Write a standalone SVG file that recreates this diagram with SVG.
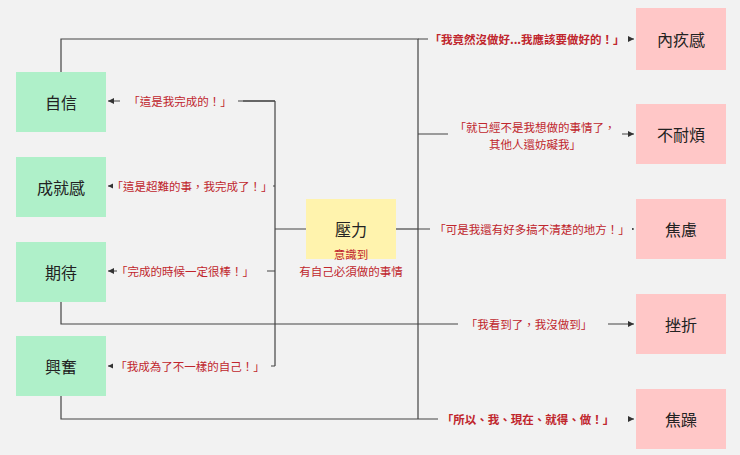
<svg xmlns="http://www.w3.org/2000/svg" width="740" height="455" viewBox="0 0 740 455">
<defs>
<marker id="a" markerWidth="6" markerHeight="6" refX="5" refY="3" orient="auto"><path d="M0,0.5 L5,3 L0,5.5 Z" fill="#333"/></marker>
<style>
.g{fill:#aff0c9}.p{fill:#ffc7c7}.y{fill:#fff3ad}
.n{font-family:"Noto Sans CJK TC","Noto Sans CJK SC",sans-serif;font-size:16px;fill:#222;text-anchor:middle;dominant-baseline:central}
.l{font-family:"Noto Sans CJK TC","Noto Sans CJK SC",sans-serif;font-size:11.5px;fill:#c0262d;text-anchor:middle;dominant-baseline:central}
.b{font-weight:bold}
.c{fill:none;stroke:#444;stroke-width:1.2}
.c2{fill:none;stroke:#444;stroke-width:1.2;marker-end:url(#a)}
</style>
</defs>
<rect width="740" height="455" fill="#f2f2f2"/>
<g id="connectors">
<path class="c" d="M61,72 V39 H418 V419"/>
<path class="c" d="M306,229 H275 M275,101 V366"/>
<path class="c" d="M396,229 H418"/>
<path class="c" d="M61,302 V324 H418"/>
<path class="c" d="M61,396 V419 H418"/>
<path class="c2" d="M243,101 H275 M243,101 H108"/>
<path class="c2" d="M275,186 H108"/>
<path class="c2" d="M275,271 H108"/>
<path class="c2" d="M275,366 H108"/>
<path class="c" d="M243,101 H275"/>
<path class="c2" d="M418,39 H634"/>
<path class="c2" d="M418,134 H634"/>
<path class="c2" d="M418,229 H634"/>
<path class="c2" d="M418,324 H634"/>
<path class="c2" d="M418,419 H634"/>
</g>
<g id="labels">
<rect x="120" y="92" width="118" height="18" fill="#f2f2f2"/><text class="l" x="180" y="101">「這是我完成的！」</text>
<rect x="113" y="177" width="160" height="18" fill="#f2f2f2"/><text class="l" x="192" y="186">「這是超難的事，我完成了！」</text>
<rect x="117" y="262" width="150" height="18" fill="#f2f2f2"/><text class="l" x="185" y="271">「完成的時候一定很棒！」</text>
<rect x="113" y="357" width="158" height="18" fill="#f2f2f2"/><text class="l" x="190" y="366">「我成為了不一樣的自己！」</text>
<rect x="428" y="30" width="200" height="18" fill="#f2f2f2"/><text class="l b" x="527" y="39">「我竟然沒做好...我應該要做好的！」</text>
<rect x="448" y="116" width="174" height="36" fill="#f2f2f2"/><text class="l" x="535" y="127">「就已經不是我想做的事情了，</text><text class="l" x="535" y="144">其他人還妨礙我」</text>
<rect x="430" y="220" width="202" height="18" fill="#f2f2f2"/><text class="l" x="532" y="229">「可是我還有好多搞不清楚的地方！」</text>
<rect x="458" y="315" width="150" height="18" fill="#f2f2f2"/><text class="l" x="529" y="324">「我看到了，我沒做到」</text>
<rect x="438" y="410" width="190" height="18" fill="#f2f2f2"/><text class="l b" x="528" y="419">「所以、我、現在、就得、做！」</text>
</g>
<g id="n1"><rect class="g" x="16" y="72" width="90" height="60"/><text class="n" x="61" y="102">自信</text></g>
<g id="n2"><rect class="g" x="16" y="157" width="90" height="60"/><text class="n" x="61" y="187">成就感</text></g>
<g id="n3"><rect class="g" x="16" y="242" width="90" height="60"/><text class="n" x="61" y="272">期待</text></g>
<g id="n4"><rect class="g" x="16" y="336" width="90" height="60"/><text class="n" x="61" y="366">興奮</text></g>
<g id="center"><rect class="y" x="306" y="199" width="90" height="60"/><text class="n" x="351" y="229">壓力</text>
<text class="l" x="351" y="254">意識到</text><text class="l" x="351" y="271">有自己必須做的事情</text></g>
<g id="r1"><rect class="p" x="636" y="8" width="90" height="62"/><text class="n" x="681" y="39">內疚感</text></g>
<g id="r2"><rect class="p" x="636" y="104" width="90" height="60"/><text class="n" x="681" y="134">不耐煩</text></g>
<g id="r3"><rect class="p" x="636" y="199" width="90" height="60"/><text class="n" x="681" y="229">焦慮</text></g>
<g id="r4"><rect class="p" x="636" y="294" width="90" height="60"/><text class="n" x="681" y="324">挫折</text></g>
<g id="r5"><rect class="p" x="636" y="389" width="90" height="60"/><text class="n" x="681" y="419">焦躁</text></g>
</svg>
